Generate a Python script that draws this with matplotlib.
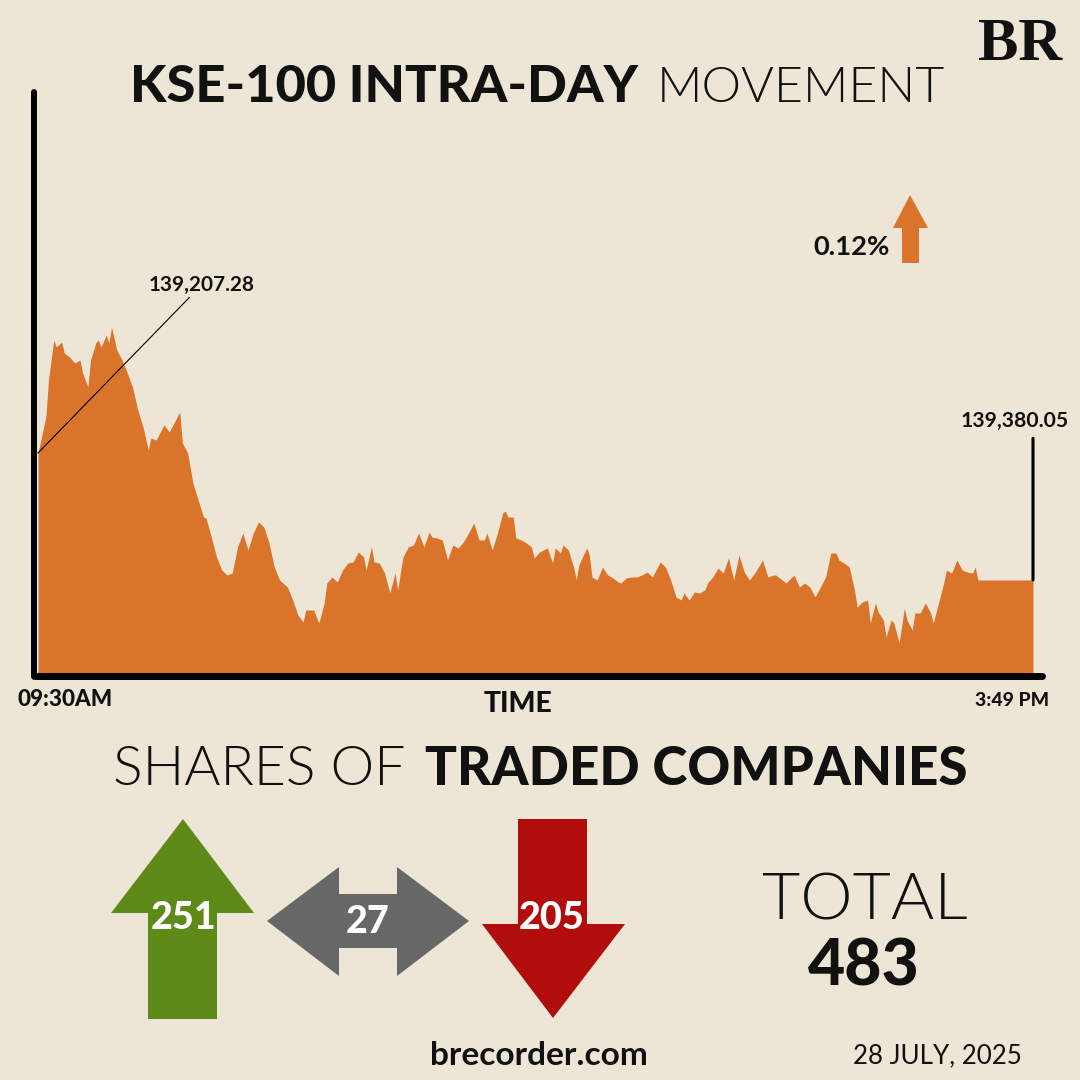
import matplotlib.pyplot as plt
from matplotlib.patches import Polygon

# KSE-100 intraday track: minutes after the 09:30 open and index level
minutes = [0, 3, 4, 6, 7, 9, 10, 12, 14, 16, 17, 19, 20, 22, 23, 24, 26, 27, 28, 30,
           32, 34, 36, 38, 40, 42, 43, 45, 48, 50, 51, 54, 55, 57, 59, 61, 63, 64, 66, 68,
           70, 72, 74, 76, 78, 80, 82, 84, 86, 88, 90, 92, 95, 97, 99, 101, 102, 105, 107, 109,
           110, 112, 114, 116, 118, 120, 122, 124, 125, 127, 128, 130, 132, 134, 136, 137, 139, 141, 143, 145,
           147, 149, 150, 152, 154, 156, 158, 160, 162, 164, 166, 168, 170, 171, 173, 175, 177, 178, 179, 181,
           182, 184, 186, 188, 189, 191, 194, 196, 197, 199, 200, 202, 204, 205, 206, 209, 210, 211, 213, 215,
           217, 219, 221, 222, 224, 226, 228, 230, 232, 234, 236, 237, 239, 241, 243, 245, 246, 248, 250, 252,
           254, 255, 257, 259, 261, 263, 265, 267, 269, 271, 273, 276, 278, 280, 281, 285, 286, 288, 290, 292,
           294, 296, 298, 300, 302, 304, 305, 307, 309, 311, 312, 314, 316, 317, 319, 320, 322, 323, 325, 326,
           328, 330, 331, 333, 334, 336, 338, 340, 341, 343, 345, 346, 348, 350, 352, 354, 356, 357, 358, 379]
level = [139634, 139706, 139780, 139860, 139846, 139856, 139834, 139826, 139814, 139820,
         139794, 139766, 139820, 139854, 139860, 139846, 139870, 139854, 139886, 139840,
         139820, 139794, 139766, 139720, 139686, 139640, 139664, 139660, 139690, 139676,
         139686, 139716, 139654, 139634, 139574, 139540, 139506, 139504, 139466, 139426,
         139400, 139390, 139394, 139446, 139474, 139440, 139474, 139496, 139486, 139454,
         139406, 139380, 139366, 139340, 139310, 139296, 139320, 139320, 139294, 139334,
         139374, 139386, 139376, 139400, 139414, 139416, 139436, 139426, 139400, 139446,
         139416, 139414, 139394, 139354, 139394, 139360, 139426, 139446, 139450, 139474,
         139446, 139476, 139466, 139464, 139460, 139420, 139450, 139444, 139456, 139474,
         139494, 139460, 139460, 139474, 139440, 139474, 139514, 139518, 139506, 139506,
         139464, 139460, 139454, 139446, 139424, 139436, 139444, 139414, 139444, 139434,
         139450, 139440, 139406, 139380, 139410, 139444, 139430, 139386, 139380, 139406,
         139390, 139384, 139376, 139374, 139384, 139386, 139386, 139390, 139396, 139386,
         139406, 139416, 139406, 139380, 139346, 139340, 139354, 139340, 139356, 139354,
         139360, 139374, 139386, 139404, 139394, 139424, 139380, 139430, 139396, 139380,
         139394, 139420, 139386, 139390, 139390, 139374, 139380, 139390, 139366, 139374,
         139366, 139346, 139366, 139386, 139434, 139434, 139420, 139414, 139406, 139360,
         139326, 139336, 139340, 139294, 139334, 139316, 139300, 139266, 139300, 139294,
         139254, 139324, 139300, 139280, 139314, 139314, 139334, 139314, 139294, 139334,
         139374, 139400, 139394, 139420, 139400, 139396, 139394, 139406, 139380, 139380.05]

open_label = "09:30AM"
close_label = "3:49 PM"
start_text = "139,207.28"
close_text = "139,380.05"
change_text = "0.12%"

share_counts = [251, 27, 205]   # advanced, unchanged, declined
date_text = "28 JULY, 2025"

bg = "#EDE6D6"
orange = "#DA742A"
share_colors = ["#5E8A1A", "#676767", "#B20D0D"]

THIN = dict(family="Lato", fontweight=300)
HEAVY = dict(family="Lato", fontweight=900)
BOLD = dict(family="Lato", fontweight="bold")

fig = plt.figure(figsize=(10.8, 10.8), dpi=100, facecolor=bg)
renderer = fig.canvas.get_renderer()

# overlay in pixel units for the infographic decorations
deco = fig.add_axes([0, 0, 1, 1])
deco.set_xlim(0, 1080)
deco.set_ylim(1080, 0)
deco.axis("off")


def fit(t, width):
    # scale font so the text spans the given pixel width
    bb = t.get_window_extent(renderer)
    t.set_fontsize(t.get_fontsize() * width / bb.width)
    return t


def label(x, y, s, width, style, ha="left", va="baseline", color="#111111", ax=None):
    ax = ax or deco
    t = ax.text(x, y, s, ha=ha, va=va, color=color, fontsize=20, **style)
    return fit(t, width)


# titles
label(130, 102, "KSE-100 INTRA-DAY", 507, HEAVY)
label(657, 102, "MOVEMENT", 288, THIN)
label(1062, 60, "BR", 84, dict(family="Liberation Serif", fontweight="bold"), ha="right")

# chart
px_per_min = 995 / 379
ax = fig.add_axes([34 / 1080, 1 - 676 / 1080, (1042 - 34) / 1080, (676 - 92) / 1080])
ax.set_facecolor("none")
x0 = -4 / px_per_min
x1 = 379 + 9 / px_per_min
ax.set_xlim(x0, x1)
ybot = 139188
ax.set_ylim(ybot, ybot + (676 - 92) * 2)
ax.fill_between(minutes, level, ybot, color=orange, lw=0)
for side in ["top", "right"]:
    ax.spines[side].set_visible(False)
ax.spines["left"].set_linewidth(4.3)
ax.spines["bottom"].set_linewidth(5)
for side in ["left", "bottom"]:
    ax.spines[side].set_capstyle("round")
    ax.spines[side].set_color("black")
ax.set_xticks([])
ax.set_yticks([])

# start and close call-outs
ax.annotate("", xy=(minutes[0], level[0]), xytext=(109, 112), textcoords="offset points",
            arrowprops=dict(arrowstyle="-", lw=0.8, color="black", shrinkA=0, shrinkB=0))
t = ax.annotate(start_text, xy=(minutes[0], level[0]), xytext=(118, 117), textcoords="offset points",
                ha="center", va="baseline", fontsize=14, color="#111111", **BOLD)
fit(t, 106)
ax.annotate("", xy=(minutes[-1], level[-1]), xytext=(0, 102), textcoords="offset points",
            arrowprops=dict(arrowstyle="-", lw=2.2, color="black", shrinkA=0, shrinkB=0))
t = ax.annotate(close_text, xy=(minutes[-1], level[-1]), xytext=(-13, 110), textcoords="offset points",
                ha="center", va="baseline", fontsize=14, color="#111111", annotation_clip=False, **BOLD)
fit(t, 108)

# daily change
label(813, 255, change_text, 77, BOLD)
deco.add_patch(Polygon([(910, 195), (928, 228), (919, 228), (919, 263), (902, 263), (902, 228), (893, 228)],
                       closed=True, color=orange, lw=0))

# time axis labels
label(17, 706, open_label, 95, HEAVY)
label(518, 712, "TIME", 69, HEAVY, ha="center")
label(1049, 706, close_label, 74, HEAVY, ha="right")

# shares of traded companies
label(113, 785, "SHARES OF", 292, THIN)
label(425, 785, "TRADED COMPANIES", 543, HEAVY)

arrows = [
    [(183, 819), (254, 913), (217, 913), (217, 1019), (148, 1019), (148, 913), (111, 913)],
    [(267, 921), (339, 867), (339, 894), (397, 894), (397, 867), (469, 921), (397, 976),
     (397, 948), (339, 948), (339, 976)],
    [(518, 819), (587, 819), (587, 924), (625, 924), (553, 1018), (482, 924), (518, 924)],
]
num_pos = [(184, 918), (368, 922), (552, 918)]
for shape, col in zip(arrows, share_colors):
    deco.add_patch(Polygon(shape, closed=True, color=col, lw=0))

ref = label(*num_pos[2], str(share_counts[2]), 66, HEAVY, ha="center", va="center", color="white")
size = ref.get_fontsize()
for (x, y), n in zip(num_pos[:2], share_counts[:2]):
    deco.text(x, y, str(n), ha="center", va="center", color="white", fontsize=size, **HEAVY)

label(762, 919, "TOTAL", 206, THIN)
label(808, 985, str(sum(share_counts)), 112, HEAVY)

label(430, 1065, "brecorder.com", 218, BOLD)
label(853, 1063, date_text, 169, dict(family="Lato", fontweight="normal"))

fig.savefig("out.png", dpi=100, facecolor=bg)
